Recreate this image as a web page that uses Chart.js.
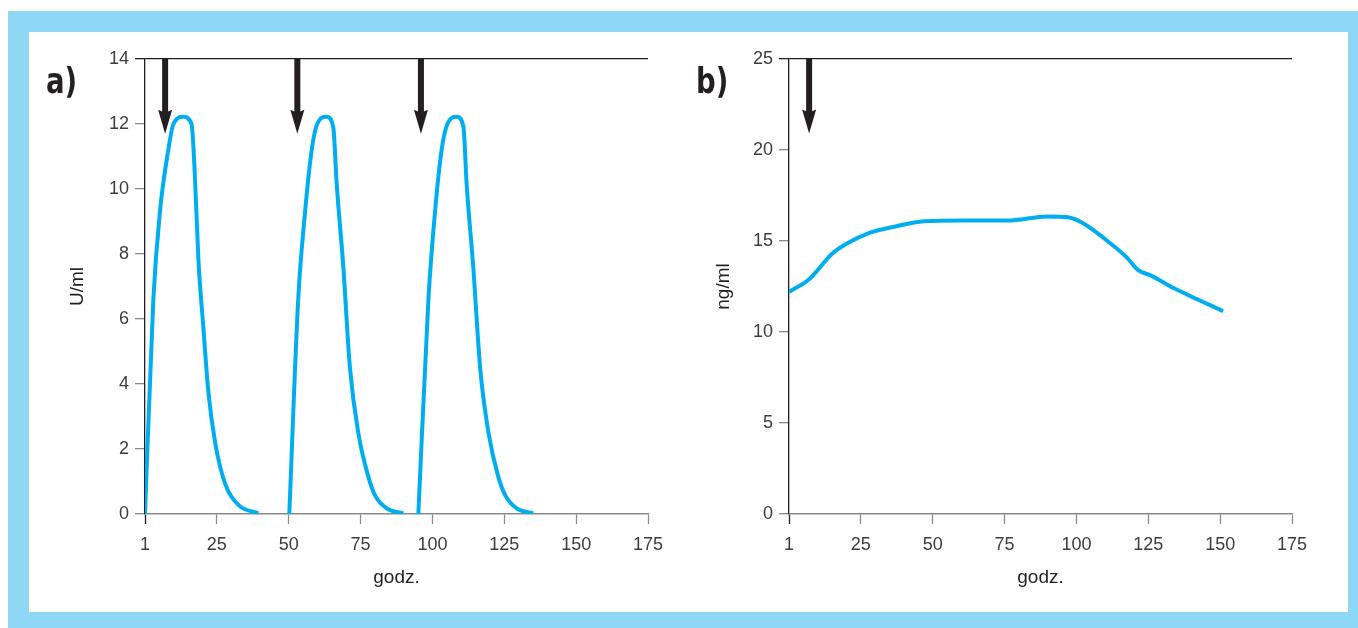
<!DOCTYPE html>
<html>
<head>
<meta charset="utf-8">
<script src="https://cdn.jsdelivr.net/npm/chart.js@4"></script>
<style>
  body { margin: 0; background: #fff; width: 1358px; height: 628px; overflow: hidden; position: relative; }
  #ramka { position: absolute; left: 8px; top: 11px; width: 1350px; height: 617px; background: #8fd8f5; }
  #panel { position: absolute; left: 29px; top: 32px; width: 1319px; height: 580px; background: #fff; }
  canvas { position: absolute; top: 0; }
  .litera { position: absolute; top: 28px; font-family: "Liberation Sans Narrow", "DejaVu Sans Condensed", sans-serif;
            font-weight: bold; font-size: 36px; color: #231f20; transform: scaleX(0.85); transform-origin: left top; }
</style>
</head>
<body>
<div id="ramka"></div>
<div id="panel">
  <canvas id="wykresA" width="640" height="580" style="left:0"></canvas>
  <canvas id="wykresB" width="679" height="580" style="left:640px"></canvas>
  <div class="litera" style="left:17px">a)</div>
  <div class="litera" style="left:667px">b)</div>
</div>
<script>
// wykres a) - trzy kolejne dawki, U/ml
const godzA1 = [0, 2.9, 5.2, 8.1, 9.9, 13.3, 16.2, 17.2, 18.6, 20.3, 22.0, 24.4, 27.8, 32.5, 39.4];
const stezA1 = [0, 6.6, 9.3, 11.2, 12.0, 12.22, 12.0, 10.7, 7.8, 5.75, 3.8, 2.2, 0.95, 0.28, 0.02];
const godzA2 = [50.2, 53.3, 55.7, 58.0, 59.7, 63.2, 65.5, 66.7, 69.0, 71.3, 74.2, 77.7, 80.0, 84.1, 89.9];
const stezA2 = [0, 6.6, 9.3, 11.2, 11.95, 12.22, 11.9, 10.15, 7.6, 4.5, 2.5, 1.15, 0.58, 0.17, 0.02];
const godzA3 = [95.1, 98.6, 100.9, 103.2, 105.0, 108.5, 110.8, 111.9, 114.2, 116.6, 119.5, 122.9, 125.3, 129.3, 135.1];
const stezA3 = [0, 6.6, 9.3, 11.2, 11.95, 12.22, 11.9, 10.15, 7.6, 4.5, 2.5, 1.15, 0.58, 0.17, 0.02];
const dawkiA = [7, 53, 96];

// wykres b) - jedna dawka, ng/ml
const godzB = [0, 7, 15, 20, 28, 37, 47, 61, 76, 90, 97, 102, 112, 117.5, 121.5, 126, 134, 142, 151];
const stezB = [12.2, 12.9, 14.3, 14.85, 15.45, 15.8, 16.08, 16.13, 16.12, 16.35, 16.3, 16.0, 14.85, 14.1, 13.4, 13.1, 12.4, 11.8, 11.15];
const dawkiB = [7];

const osX = [0, 25, 50, 75, 100, 125, 150, 175]; // pierwszy opis to "1"

const ciemny = '#231f20';
const szary = '#8a8a8a';
const niebieski = '#00aeef';

function punkty(xs, ys) {
  return xs.map((x, i) => ({ x: x, y: ys[i] }));
}

function seria(xs, ys) {
  return {
    data: punkty(xs, ys),
    borderColor: niebieski,
    borderWidth: 4,
    pointRadius: 0,
    cubicInterpolationMode: 'monotone',
    fill: false
  };
}

// strzalki podania leku
const strzalki = {
  id: 'strzalki',
  afterDatasetsDraw(chart, args, opts) {
    const { ctx, scales: { x, y } } = chart;
    const gora = y.getPixelForValue(y.max);
    const grot = y.getPixelForValue(opts.grot);
    ctx.save();
    ctx.fillStyle = ciemny;
    opts.dawki.forEach(d => {
      const px = x.getPixelForValue(d);
      ctx.fillRect(px - 3, gora, 6, grot - gora - 20);
      ctx.beginPath();
      ctx.moveTo(px - 7, grot - 24);
      ctx.lineTo(px, grot - 21);
      ctx.lineTo(px + 7, grot - 24);
      ctx.lineTo(px, grot);
      ctx.closePath();
      ctx.fill();
    });
    ctx.restore();
  }
};

function opcje(maxY, krok, tytulY, lewa, prawa, tytulPad, dawki, grot) {
  return {
    responsive: false,
    animation: false,
    layout: { padding: { left: 0, right: prawa, top: 27, bottom: 0 } },
    plugins: {
      legend: { display: false },
      tooltip: { enabled: false },
      strzalki: { dawki: dawki, grot: grot }
    },
    scales: {
      x: {
        type: 'linear',
        min: 0,
        max: 175,
        afterBuildTicks: s => { s.ticks = osX.map(v => ({ value: v })); },
        afterFit: s => { s.height = 98; s.paddingLeft = 0; s.paddingRight = 0; },
        border: { color: szary, width: 1.6 },
        grid: {
          drawOnChartArea: false,
          tickLength: 10,
          tickWidth: 1.3,
          tickColor: c => c.tick && c.tick.value === 0 ? ciemny : szary
        },
        ticks: {
          padding: 10,
          color: '#3d3d3d',
          font: { family: 'Liberation Sans', size: 18 },
          callback: v => v === 0 ? '1' : v
        },
        title: {
          display: true,
          text: 'godz.',
          color: ciemny,
          font: { family: 'Liberation Sans', size: 19 },
          padding: { top: 0, bottom: 23 }
        }
      },
      y: {
        min: 0,
        max: maxY,
        afterFit: s => { s.width = lewa; },
        border: { color: ciemny, width: 1.3 },
        grid: {
          drawOnChartArea: true,
          tickLength: 10,
          lineWidth: 1.3,
          tickWidth: 1.3,
          color: c => c.tick && c.tick.value === maxY ? ciemny : 'rgba(0,0,0,0)',
          tickColor: c => c.tick && c.tick.value === maxY ? ciemny : szary
        },
        ticks: {
          stepSize: krok,
          padding: 6,
          color: '#3d3d3d',
          font: { family: 'Liberation Sans', size: 18 }
        },
        title: {
          display: true,
          text: tytulY,
          color: ciemny,
          font: { family: 'Liberation Sans', size: 19 },
          padding: { top: tytulPad, bottom: 0 }
        }
      }
    }
  };
}

new Chart(document.getElementById('wykresA'), {
  type: 'line',
  data: { datasets: [seria(godzA1, stezA1), seria(godzA2, stezA2), seria(godzA3, stezA3)] },
  options: opcje(14, 2, 'U/ml', 116, 21, 37, dawkiA, 11.7),
  plugins: [strzalki]
});

new Chart(document.getElementById('wykresB'), {
  type: 'line',
  data: { datasets: [seria(godzB, stezB)] },
  options: opcje(25, 5, 'ng/ml', 120, 56, 43, dawkiB, 20.9),
  plugins: [strzalki]
});
</script>
</body>
</html>
